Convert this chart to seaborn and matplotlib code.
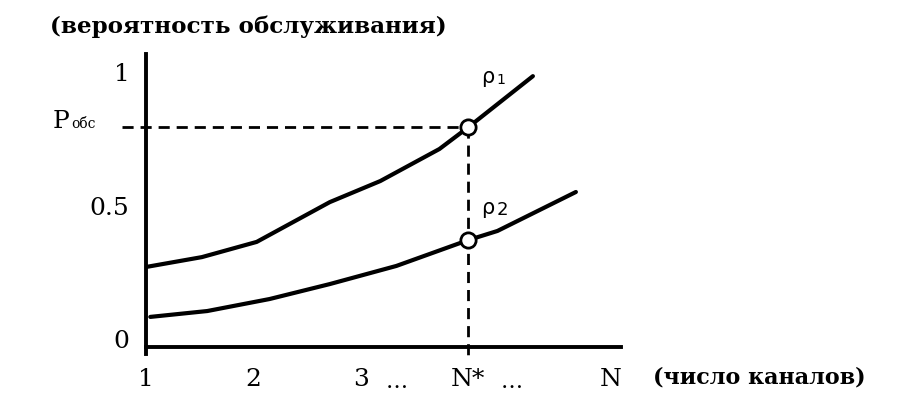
import pandas as pd
import seaborn as sns
import matplotlib.pyplot as plt

# Curves (x = number of channels, y = probability)
n_rho1 = [1.0, 1.52, 2.03, 2.71, 3.18, 3.73, 4.0, 4.6]
p_rho1 = [0.266, 0.303, 0.36, 0.509, 0.588, 0.708, 0.79, 0.981]
n_rho2 = [1.04, 1.57, 2.15, 2.71, 3.33, 4.0, 4.27, 5.0]
p_rho2 = [0.079, 0.101, 0.146, 0.202, 0.27, 0.367, 0.401, 0.547]

n_star = 4.0
p_obs = 0.79
p_star2 = 0.367
n_max = 5.32

x_ticks = [1, 2, 3, n_star, n_max]
x_labels = ["1", "2", "3", "N*", "N"]
y_ticks = [0, 0.5, 1]
y_labels = ["0", "0.5", "1"]

df = pd.concat([
    pd.DataFrame({"N": n_rho1, "P": p_rho1, "rho": "rho1"}),
    pd.DataFrame({"N": n_rho2, "P": p_rho2, "rho": "rho2"}),
])

sns.set_style("white")
plt.rcParams["font.family"] = ["DejaVu Serif"]
plt.rcParams["text.color"] = "black"
plt.rcParams["xtick.color"] = "black"
plt.rcParams["ytick.color"] = "black"

fig = plt.figure(figsize=(8.99, 4.02), dpi=100)
ax = fig.add_axes([0.1624, 0.1169, 0.5284, 0.7463])

sns.lineplot(data=df, x="N", y="P", hue="rho", palette=["black", "black"],
             linewidth=3, legend=False, ax=ax, sort=False)

# dashed guides to the operating point
dash_kw = dict(color="black", lw=2, dashes=(4, 2.5), clip_on=False, zorder=1)
ax.plot([0.777, n_star], [p_obs, p_obs], **dash_kw)
ax.plot([n_star, n_star], [p_obs, -0.075], **dash_kw)

ax.plot([n_star, n_star], [p_obs, p_star2], "o", ms=11, mfc="white",
        mec="black", mew=2, zorder=5, clip_on=False)

ax.set_xlim(1, 5.42)
ax.set_ylim(-0.06, 1.064)
ax.set_xticks(x_ticks)
ax.set_xticklabels(x_labels)
ax.set_yticks(y_ticks)
ax.set_yticklabels(y_labels)
ax.tick_params(axis="both", length=0, labelsize=18, labelcolor="black")
ax.tick_params(axis="x", pad=14)
ax.tick_params(axis="y", pad=12)
ax.set_xlabel("")
ax.set_ylabel("")

for s in ["top", "right"]:
    ax.spines[s].set_visible(False)
ax.spines["bottom"].set_position(("data", -0.034))
for s in ["left", "bottom"]:
    ax.spines[s].set_linewidth(2.8)
    ax.spines[s].set_color("black")

# dots after 3 and N*
for xd in [3.33, 4.40]:
    ax.text(xd, -0.184, "…", ha="center", va="baseline", fontsize=16,
            clip_on=False)

# P_обс label
ax.text(0.135, p_obs, "P", ha="left", va="baseline", fontsize=18, clip_on=False)
ax.text(0.30, p_obs, "обс", ha="left", va="baseline", fontsize=10, clip_on=False)

# rho labels
ax.text(4.12, 0.96, "ρ", family="DejaVu Sans", fontsize=15, va="baseline")
ax.text(4.26, 0.955, "1", family="DejaVu Sans", fontsize=10, va="baseline")
ax.text(4.12, 0.47, "ρ", family="DejaVu Sans", fontsize=15, va="baseline")
ax.text(4.26, 0.465, "2", family="DejaVu Sans", fontsize=13, va="baseline")

fig.text(50 / 899, 1 - 27 / 402, "(вероятность обслуживания)", ha="left",
         va="center", fontsize=16.6, fontweight="bold")
fig.text(653 / 899, 1 - 378 / 402, "(число каналов)", ha="left",
         va="center", fontsize=16, fontweight="bold")

fig.savefig("out.png", dpi=100)
